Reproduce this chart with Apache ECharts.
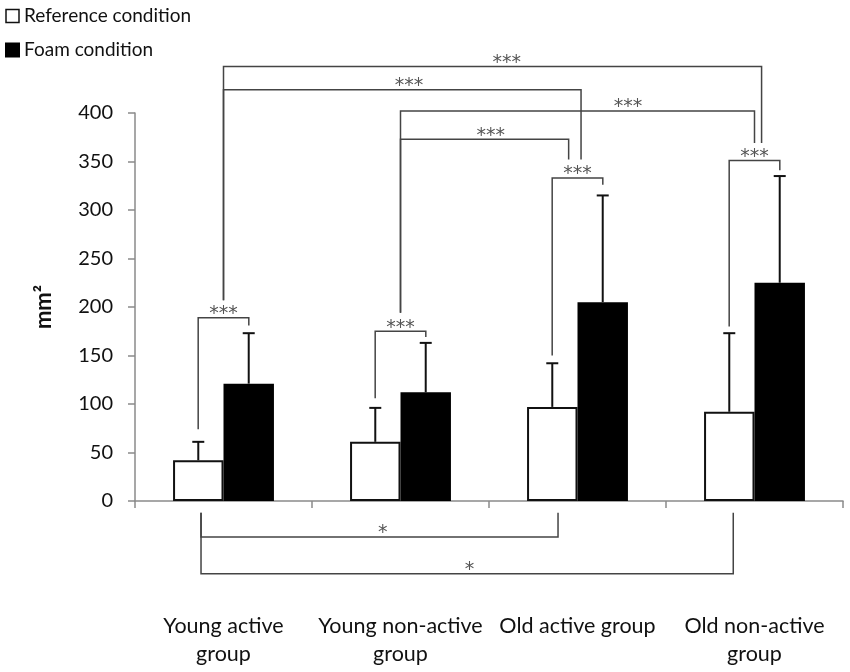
<!DOCTYPE html>
<html>
<head>
<meta charset="utf-8">
<script src="https://cdn.jsdelivr.net/npm/echarts@6/dist/echarts.min.js"></script>
<style>
  html, body { margin: 0; padding: 0; background: #fff; }
  #main { width: 850px; height: 672px; }
</style>
</head>
<body>
<div id="main"></div>
<script>
// data
var categories = ['Young active\ngroup', 'Young non-active\ngroup', 'Old active group', 'Old non-active\ngroup'];
var refMean = [42, 61, 97, 92];
var refSd = [19, 35, 45, 81];
var foamMean = [121, 112, 205, 225];
var foamSd = [52, 51, 110, 110];
var yTicks = [0, 400, 50]; // min, max, interval

// significance brackets: x1, x2 (category index + offset), y line, y left end, y right end, label x, label
var brackets = [
  [-0.143, 0.143, 189, 74, 181, 0, '***'],
  [0.857, 1.143, 175, 106, 169, 1.0, '***'],
  [1.857, 2.143, 333, 150, 326, 2.0, '***'],
  [2.857, 3.143, 351, 180, 341, 3.0, '***'],
  [1.0, 1.95, 373, 194, 352, 1.51, '***'],
  [1.0, 3.0, 402, 194, 369, 2.285, '***'],
  [0.0, 2.02, 424, 207, 352, 1.048, '***'],
  [0.0, 3.04, 448, 207, 369, 1.60, '***'],
  [-0.127, 1.89, -37, -12, -12, 0.90, '*'],
  [-0.127, 2.88, -75, -12, -12, 1.39, '*']
];

var FONT = 'Lato, "Liberation Sans", sans-serif';
var BAR_W = 0.285;

var chart = echarts.init(document.getElementById('main'));

// x position from fractional category index
function toPx(api, x, y) {
  var i = Math.round(x);
  var p = api.coord([i, y]);
  var band = api.coord([1, 0])[0] - api.coord([0, 0])[0];
  return [p[0] + (x - i) * band, p[1]];
}

function errorSeries(name, means, sds, side) {
  return {
    type: 'custom',
    name: name + ' err',
    clip: false,
    z: 3,
    encode: { x: 0, y: 1 },
    data: means.map(function (m, i) { return [i, m, sds[i]]; }),
    renderItem: function (params, api) {
      var i = api.value(0), m = api.value(1), sd = api.value(2);
      var off = side * BAR_W / 2;
      var b = toPx(api, i + off, m);
      var t = toPx(api, i + off, m + sd);
      var st = { stroke: '#111', lineWidth: 2 };
      return {
        type: 'group',
        children: [
          { type: 'line', shape: { x1: b[0], y1: b[1], x2: t[0], y2: t[1] }, style: st },
          { type: 'line', shape: { x1: t[0] - 6, y1: t[1], x2: t[0] + 6, y2: t[1] }, style: st }
        ]
      };
    }
  };
}

var option = {
  animation: false,
  legend: {
    orient: 'vertical',
    left: 0,
    top: 1,
    itemWidth: 13,
    itemHeight: 13,
    itemGap: 14,
    textStyle: { fontFamily: FONT, fontSize: 19, color: '#111', lineHeight: 20 },
    data: [
      { name: 'Reference condition', icon: 'rect', itemStyle: { color: '#fff', borderColor: '#111', borderWidth: 1.5 } },
      { name: 'Foam condition', icon: 'rect', itemStyle: { color: '#000' } }
    ]
  },
  grid: { left: 135, right: 7, top: 113, bottom: 171, containLabel: false, outerBoundsMode: 'none' },
  xAxis: {
    type: 'category',
    data: categories,
    axisLine: { lineStyle: { color: '#8a8a8a', width: 1.5 } },
    axisTick: { show: true, length: 7, lineStyle: { color: '#8a8a8a', width: 1.5 } },
    axisLabel: { fontFamily: FONT, fontSize: 21.5, color: '#111', margin: 111, lineHeight: 28, interval: 0 }
  },
  yAxis: {
    type: 'value',
    min: yTicks[0],
    max: yTicks[1],
    interval: yTicks[2],
    name: 'mm²',
    nameLocation: 'middle',
    nameGap: 80,
    nameTextStyle: { fontFamily: FONT, fontSize: 22, fontWeight: 'bold', color: '#111' },
    splitLine: { show: false },
    axisLine: { show: true, lineStyle: { color: '#8a8a8a', width: 1.5 } },
    axisTick: { show: true, length: 7, lineStyle: { color: '#8a8a8a', width: 1.5 } },
    axisLabel: { fontFamily: FONT, fontSize: 20, color: '#111', margin: 22 }
  },
  series: [
    {
      name: 'Reference condition',
      type: 'bar',
      barWidth: (BAR_W * 100) + '%',
      barGap: '0%',
      itemStyle: { color: '#fff', borderColor: '#111', borderWidth: 2 },
      data: refMean
    },
    {
      name: 'Foam condition',
      type: 'bar',
      barWidth: (BAR_W * 100) + '%',
      barGap: '0%',
      itemStyle: { color: '#000', borderColor: '#000', borderWidth: 2 },
      data: foamMean
    },
    errorSeries('Reference condition', refMean, refSd, -1),
    errorSeries('Foam condition', foamMean, foamSd, 1),
    {
      type: 'custom',
      name: 'brackets',
      clip: false,
      z: 4,
      data: brackets.map(function () { return [0, 0]; }),
      renderItem: function (params, api) {
        var b = brackets[params.dataIndex];
        var p1 = toPx(api, b[0], b[3]);
        var p2 = toPx(api, b[0], b[2]);
        var p3 = toPx(api, b[1], b[2]);
        var p4 = toPx(api, b[1], b[4]);
        var lp = toPx(api, b[5], b[2]);
        return {
          type: 'group',
          children: [
            { type: 'polyline', shape: { points: [p1, p2, p3, p4] }, style: { stroke: '#444', lineWidth: 1.5, fill: null } },
            { type: 'text', x: lp[0], y: lp[1] + 6, style: {
                text: b[6], fill: '#555', font: '19px "DejaVu Sans", sans-serif',
                textAlign: 'center', textVerticalAlign: 'bottom', align: 'center', verticalAlign: 'bottom'
              } }
          ]
        };
      }
    }
  ]
};

chart.setOption(option);
</script>
</body>
</html>
